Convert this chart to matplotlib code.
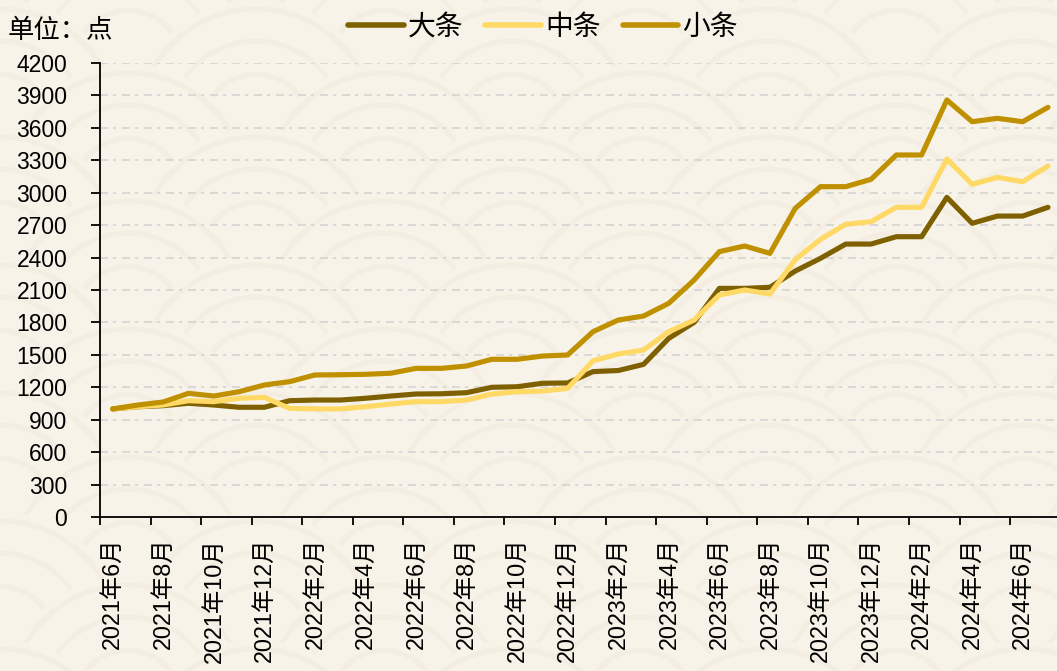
import matplotlib
matplotlib.use("Agg")
import matplotlib.pyplot as plt
from matplotlib.patches import Circle
from matplotlib.ticker import FixedLocator, NullFormatter, FixedFormatter

months = ["2021年6月", "2021年7月", "2021年8月", "2021年9月", "2021年10月", "2021年11月", "2021年12月",
          "2022年1月", "2022年2月", "2022年3月", "2022年4月", "2022年5月", "2022年6月", "2022年7月",
          "2022年8月", "2022年9月", "2022年10月", "2022年11月", "2022年12月",
          "2023年1月", "2023年2月", "2023年3月", "2023年4月", "2023年5月", "2023年6月", "2023年7月",
          "2023年8月", "2023年9月", "2023年10月", "2023年11月", "2023年12月",
          "2024年1月", "2024年2月", "2024年3月", "2024年4月", "2024年5月", "2024年6月", "2024年7月"]

da_tiao = [1000, 1020, 1030, 1052, 1036, 1015, 1015, 1076, 1082, 1082, 1098, 1119, 1138, 1140,
           1150, 1200, 1205, 1237, 1240, 1345, 1355, 1412, 1653, 1800, 2115, 2115, 2125, 2275,
           2393, 2525, 2525, 2593, 2593, 2957, 2717, 2784, 2784, 2865]
zhong_tiao = [1000, 1020, 1036, 1076, 1067, 1098, 1107, 1005, 1000, 1000, 1020, 1045, 1067, 1067,
              1082, 1138, 1159, 1165, 1190, 1445, 1508, 1545, 1714, 1822, 2054, 2100, 2063, 2380,
              2569, 2708, 2732, 2865, 2865, 3312, 3078, 3142, 3102, 3247]
xiao_tiao = [1000, 1036, 1064, 1144, 1119, 1159, 1221, 1252, 1314, 1316, 1320, 1330, 1375, 1375,
             1397, 1459, 1459, 1489, 1499, 1714, 1822, 1859, 1977, 2192, 2455, 2507, 2439, 2855,
             3056, 3056, 3124, 3349, 3349, 3858, 3657, 3688, 3657, 3790]

series_names = ["大条", "中条", "小条"]
series_colors = ["#7F6000", "#FFD966", "#BF9000"]
y_ticks = list(range(0, 4201, 300))

plt.rcParams['font.family'] = ['Liberation Sans', 'Noto Sans CJK SC', 'DejaVu Sans']

W, H = 1057, 671
BG = "#F7F3E8"
fig = plt.figure(figsize=(W / 100, H / 100), dpi=100, facecolor=BG)

# faint seigaiha-like background pattern
ax_bg = fig.add_axes([0, 0, 1, 1], zorder=-5)
ax_bg.set_xlim(0, W)
ax_bg.set_ylim(H, 0)
ax_bg.axis("off")
R = 128
row = 0
yc = -R
while yc < H + 2 * R:
    off = (row % 2) * R
    xc = -2 * R + off
    while xc < W + 2 * R:
        ax_bg.add_patch(Circle((xc, yc), R, facecolor=BG, edgecolor="none"))
        for f, col in ((0.93, "#F3EEE1"), (0.68, "#F4EDE2"), (0.42, "#F3EEE1")):
            ax_bg.add_patch(Circle((xc, yc), R * f, facecolor="none", edgecolor=col, lw=3.5))
        xc += 2 * R
    yc += R / 2
    row += 1

n = len(months)
x = list(range(n))
left_px, right_px, top_px, bot_px = 100, 100 + 25.28 * n, 63, 517
ax = fig.add_axes([left_px / W, 1 - bot_px / H, (right_px - left_px) / W, (bot_px - top_px) / H])
ax.set_facecolor("none")

for vals, name, col in zip([da_tiao, zhong_tiao, xiao_tiao], series_names, series_colors):
    ax.plot(x, vals, color=col, lw=3.7, label=name, solid_capstyle="round",
            solid_joinstyle="round", zorder=3)

ax.set_xlim(-0.5, n - 0.5)
ax.set_ylim(0, 4200)
ax.set_yticks(y_ticks)
ax.set_yticklabels([str(v) for v in y_ticks])
for v in y_ticks[1:]:
    ax.axhline(v, color="#D3D2D4", lw=1.1, linestyle=(0, (5.2, 3.3, 2, 3.9)), zorder=1)

ax.xaxis.set_major_locator(FixedLocator([i - 0.5 for i in range(0, n, 2)]))
ax.xaxis.set_major_formatter(NullFormatter())
ax.xaxis.set_minor_locator(FixedLocator(list(range(0, n, 2))))
ax.xaxis.set_minor_formatter(FixedFormatter([months[i] for i in range(0, n, 2)]))
ax.tick_params(axis="x", which="major", length=6, width=1.3, color="black", direction="out")
ax.tick_params(axis="x", which="minor", length=0, pad=15, labelsize=16.8, rotation=90)
ax.tick_params(axis="y", which="major", length=6.5, width=1.3, color="black", direction="out",
               pad=17, labelsize=16.5)
for lbl in ax.xaxis.get_minorticklabels():
    lbl.set_va("top")
    lbl.set_ha("center")

for s in ["top", "right"]:
    ax.spines[s].set_visible(False)
for s in ["left", "bottom"]:
    ax.spines[s].set_color("black")
    ax.spines[s].set_linewidth(1.3)

fig.text(8 / W, 1 - 30 / H, "单位：点", fontsize=19, va="center", ha="left",
         family=["Noto Sans CJK SC"])

leg = fig.legend(loc="center", bbox_to_anchor=(543 / W, 1 - 27 / H), ncol=3, frameon=False,
                 handlelength=2.0, handletextpad=0.15, columnspacing=0.8,
                 prop={"family": ["Noto Sans CJK SC"], "size": 20})
for line in leg.get_lines():
    line.set_linewidth(4)

fig.savefig("out.png", dpi=100, facecolor=BG)
